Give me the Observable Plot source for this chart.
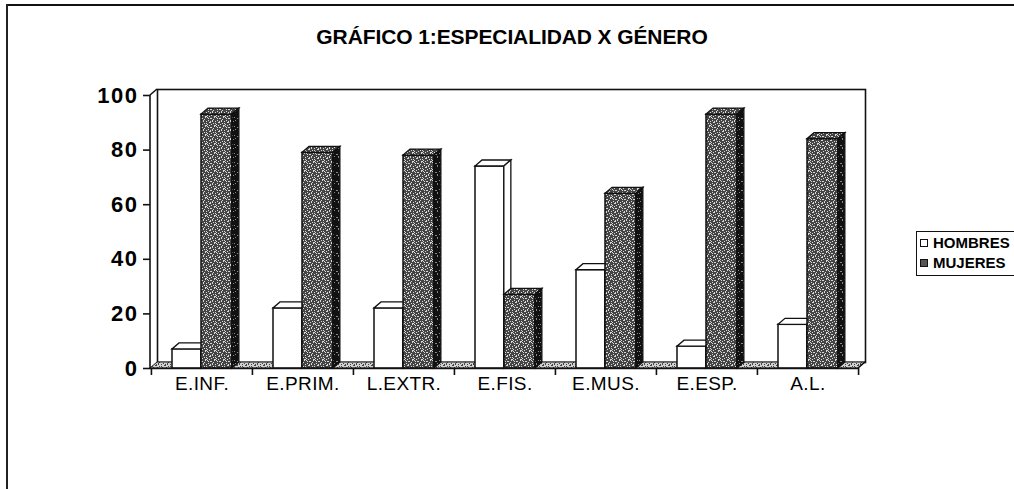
<!DOCTYPE html>
<html>
<head>
<meta charset="utf-8">
<script src="https://cdn.jsdelivr.net/npm/d3@7"></script>
<script src="https://cdn.jsdelivr.net/npm/@observablehq/plot@0.6"></script>
<style>
  html, body { margin: 0; padding: 0; background: #fff; }
  body { font-family: "Liberation Sans", Arial, sans-serif; color: #000; }
  #wrap { position: relative; width: 1014px; height: 489px; overflow: hidden; }
  #chart { position: absolute; left: 0; top: 0; }
  #topline { position: absolute; left: 6px; top: 4px; width: 1008px; height: 2px; background: #111; }
  #leftline { position: absolute; left: 6px; top: 4px; width: 1.5px; height: 485px; background: #222; }
  #title { position: absolute; left: 0; top: 25px; width: 1024px; text-align: center;
           font-weight: bold; font-size: 21px; letter-spacing: -0.1px; }
  #legend { position: absolute; left: 916px; top: 231px; width: 110px; height: 45px;
            border: 1.5px solid #111; box-sizing: border-box; }
  .li { position: absolute; left: 3px; font-weight: bold; font-size: 15px; white-space: nowrap; }
  .sw { display: inline-block; width: 8px; height: 8px; border: 1.5px solid #111; box-sizing: border-box;
        margin-right: 5px; vertical-align: 1px; }
  svg [aria-label="y-axis tick label"] text { letter-spacing: 1.5px; }
  svg [aria-label="x-axis tick label"] text { letter-spacing: 0.4px; }
</style>
</head>
<body>
<div id="wrap">
  <div id="chart"></div>
  <div id="topline"></div>
  <div id="leftline"></div>
  <div id="title">GRÁFICO 1:ESPECIALIDAD X GÉNERO</div>
  <div id="legend">
    <div class="li" style="top:2px"><span class="sw" style="background:#fff"></span>HOMBRES</div>
    <div class="li" style="top:22px"><span class="sw" style="background:#555"></span>MUJERES</div>
  </div>
</div>
<script>
// ---- data ----
const categories = ["E.INF.", "E.PRIM.", "L.EXTR.", "E.FIS.", "E.MUS.", "E.ESP.", "A.L."];
const hombres = [7, 22, 22, 74, 36, 8, 16];
const mujeres = [93, 79, 78, 27, 64, 93, 84];
const seriesNames = ["HOMBRES", "MUJERES"];
const yTicks = [0, 20, 40, 60, 80, 100];

const dataH = categories.map((c, i) => ({cat: c, value: hombres[i], serie: seriesNames[0]}));
const dataM = categories.map((c, i) => ({cat: c, value: mujeres[i], serie: seriesNames[1]}));

// ---- layout ----
const W = 1014, H = 489;
const mL = 150, mR = 156, mT = 95, mB = 121;
const DX = 7, DY = 6; // 3D depth
const bw = (W - mL - mR) / categories.length;

const chart = Plot.plot({
  width: W,
  height: H,
  marginLeft: mL,
  marginRight: mR,
  marginTop: mT,
  marginBottom: mB,
  style: {fontFamily: "'Liberation Sans', Arial, sans-serif", color: "#000", background: "transparent", overflow: "visible"},
  x: {domain: categories, padding: 0, label: null},
  y: {domain: [0, 100], label: null},
  marks: [
    // back wall
    Plot.frame({stroke: "#111", strokeWidth: 1.6, dx: DX, dy: -DY}),
    // bars
    Plot.barY(dataH, {x: "cat", y: "value", fill: "#fff", stroke: "#111", strokeWidth: 1.5,
                      insetLeft: 21, insetRight: bw - 50}),
    Plot.barY(dataM, {x: "cat", y: "value", fill: "url(#speck)", stroke: "#111", strokeWidth: 1.5,
                      insetLeft: 50, insetRight: bw - 81}),
    // front baseline
    Plot.ruleY([0], {stroke: "#111", strokeWidth: 1.6}),
    // x ticks at band edges
    Plot.ruleX(categories, {x: d => d, y1: 0, y2: 0, dx: -bw / 2, insetBottom: -7, stroke: "#111", strokeWidth: 1.6}),
    Plot.ruleX([categories[categories.length - 1]], {x: d => d, y1: 0, y2: 0, dx: bw / 2, insetBottom: -7, stroke: "#111", strokeWidth: 1.6}),
    Plot.axisY({ticks: yTicks, tickSize: 7, tickPadding: 5, fontSize: 22, fontWeight: "bold", label: null, stroke: "#111", strokeWidth: 1.6}),
    Plot.axisX({tickSize: 0, tickPadding: 8, fontSize: 19, label: null})
  ]
});
document.getElementById("chart").appendChild(chart);

// ---- 3D decoration derived from the plot's scales ----
const svg = d3.select(chart);
const defs = svg.insert("defs", ":first-child");
function speckPattern(id, base, specks, color) {
  const p = defs.append("pattern").attr("id", id).attr("patternUnits", "userSpaceOnUse")
    .attr("width", 9).attr("height", 9);
  p.append("rect").attr("width", 9).attr("height", 9).attr("fill", base);
  specks.forEach(([x, y, w, h]) => p.append("rect").attr("x", x).attr("y", y).attr("width", w).attr("height", h).attr("fill", color));
}
const specks = [[0,0,1,1],[3,1,2,1],[7,0,1,1],[1,3,1,1],[5,3,1,2],[8,4,1,1],[2,5,2,1],[0,7,1,1],[4,7,1,1],[6,6,1,1],[7,8,2,1],[2,8,1,1],[6,2,1,1],[3,4,1,1],[8,6,1,1],[1,1,1,1]];
speckPattern("speck", "#444", specks, "#d8d8d8");
speckPattern("speckDark", "#111", specks.slice(0, 6), "#888");
speckPattern("speckFloor", "#d0d0d0", specks, "#444");

const ys = chart.scale("y");
const y0 = ys.apply(0), yTop = ys.apply(100);
const xL = mL, xR = W - mR;

const barGroups = svg.selectAll('g[aria-label="bar"]').nodes();

// floor (behind bars)
const floorG = svg.insert("g", () => barGroups[0]);
floorG.append("polygon")
  .attr("points", [[xL, y0], [xR, y0], [xR + DX, y0 - DY], [xL + DX, y0 - DY]].map(p => p.join(",")).join(" "))
  .attr("fill", "url(#speckFloor)").attr("stroke", "#111").attr("stroke-width", 1);
// wall connecting diagonals + left axis line
const decoG = svg.append("g").attr("stroke", "#111").attr("stroke-width", 1.6).attr("fill", "none");
decoG.append("line").attr("x1", xL).attr("y1", yTop).attr("x2", xL + DX).attr("y2", yTop - DY);
decoG.append("line").attr("x1", xL).attr("y1", yTop).attr("x2", xL).attr("y2", y0);
decoG.append("line").attr("x1", xR).attr("y1", y0).attr("x2", xR + DX).attr("y2", y0 - DY);

const faces = [
  {top: "#fff", side: "#fff"},
  {top: "url(#speck)", side: "url(#speckDark)"}
];
barGroups.forEach((g, gi) => {
  const sel = d3.select(g);
  const rects = sel.selectAll("rect").nodes();
  rects.forEach(r => {
    const x = +r.getAttribute("x"), y = +r.getAttribute("y");
    const w = +r.getAttribute("width"), h = +r.getAttribute("height");
    sel.append("polygon")
      .attr("points", [[x, y], [x + w, y], [x + w + DX, y - DY], [x + DX, y - DY]].map(p => p.join(",")).join(" "))
      .attr("fill", faces[gi].top).attr("stroke", "#111").attr("stroke-width", 1.3);
    sel.append("polygon")
      .attr("points", [[x + w, y], [x + w + DX, y - DY], [x + w + DX, y + h - DY], [x + w, y + h]].map(p => p.join(",")).join(" "))
      .attr("fill", faces[gi].side).attr("stroke", "#111").attr("stroke-width", 1.3);
  });
});
</script>
</body>
</html>
